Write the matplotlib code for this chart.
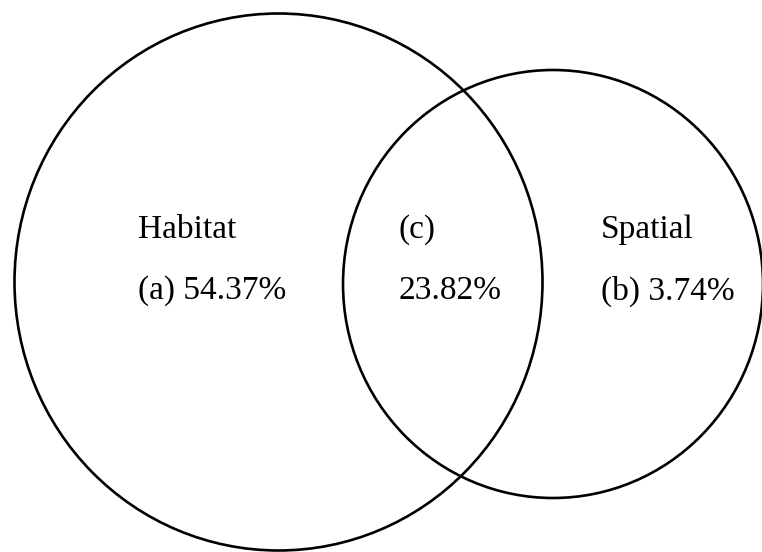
import matplotlib
matplotlib.use('Agg')
import matplotlib.pyplot as plt
from matplotlib.patches import Ellipse

plt.rcParams['font.family'] = ['Liberation Serif', 'DejaVu Serif']

# データ
set_names = ['Habitat', 'Spatial']
region_tags = ['(a)', '(b)', '(c)']
region_pct = [54.37, 3.74, 23.82]

W, H = 762, 552
fig = plt.figure(figsize=(W / 100, H / 100), dpi=100)
ax = fig.add_axes([0, 0, 1, 1])
ax.set_xlim(0, W)
ax.set_ylim(H, 0)
ax.axis('off')

# 円（ピクセル座標、元画像はわずかに縦長）
ax.add_patch(Ellipse((278.5, 282), 528, 537, fill=False, lw=1.9, ec='black'))
ax.add_patch(Ellipse((553, 284), 420, 428, fill=False, lw=1.9, ec='black'))

fs = 24
y1, y2 = 230, 291
# 左側 (a)
ax.text(138, y1, set_names[0], fontsize=fs, va='center', ha='left')
ax.text(138, y2, f'{region_tags[0]} {region_pct[0]:.2f}%', fontsize=fs, va='center', ha='left')
# 共通部分 (c)
ax.text(398, y1, region_tags[2], fontsize=fs, va='center', ha='left')
ax.text(398, y2, f'{region_pct[2]:.2f}%', fontsize=fs, va='center', ha='left')
# 右側 (b)
ax.text(601, y1, set_names[1], fontsize=fs, va='center', ha='left')
ax.text(601, y2, f'{region_tags[1]} {region_pct[1]:.2f}%', fontsize=fs, va='center', ha='left')

plt.savefig('out.png', dpi=100)
